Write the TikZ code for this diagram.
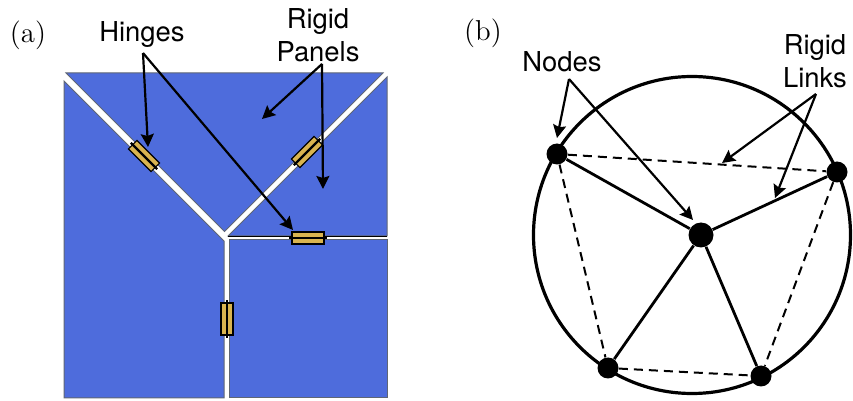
\documentclass[tikz,border=0pt]{standalone}
\usepackage{fontspec}
\newfontfamily\calloutfont{TeX Gyre Heros}
\usetikzlibrary{arrows.meta,positioning}
\definecolor{PanelBlue}{HTML}{4E6CDC}
\definecolor{PanelEdge}{HTML}{5F6675}
\definecolor{HingeGold}{HTML}{D9B450}
\begin{document}
\begin{tikzpicture}[
  x=0.5pt, y=-0.5pt,
  panel/.style={fill=PanelBlue, draw=PanelEdge, line width=0.5pt},
  hingebox/.style={draw=black, fill=HingeGold, line width=0.6pt, minimum width=16pt, minimum height=6pt, inner sep=0pt},
  callout/.style={font=\fontsize{13.7}{15}\selectfont\calloutfont, align=center, inner sep=0pt},
  panellabel/.style={font=\fontsize{14.4}{16}\selectfont, inner sep=0pt},
  joint/.style={circle, fill=black, inner sep=0pt, minimum size=10.5pt},
  hub/.style={joint, minimum size=12.5pt},
  pointer/.style={-{Stealth[length=6.5pt,width=6.5pt,inset=1pt]}, line width=1.1pt},
  solidlink/.style={line width=1.4pt},
  dashedlink/.style={line width=1pt, dash pattern=on 4.5pt off 3pt}
]
\useasboundingbox (0,0) rectangle (853,401);

% (a)
\draw[panel] (66,73) -- (383,73) -- (224.5,231.5) -- cycle;
\draw[panel] (64,81) -- (224,241) -- (224,398) -- (64,398) -- cycle;
\draw[panel] (387,77) -- (228,236) -- (387,236) -- cycle;
\draw[panel] (229,240) -- (387,240) -- (387,398) -- (229,398) -- cycle;
\draw[line width=0.45pt] (228,236) -- (387,236);

\node[hingebox, rotate=-45] (hingeleft) at (144,156) {};
\node[hingebox, rotate=45] (hingeright) at (307,152) {};
\node[hingebox] (hingemid) at (308,238) {};
\node[hingebox, rotate=90] (hingelow) at (227,319) {};
\foreach \h in {hingeleft,hingeright,hingemid,hingelow}
  \draw[line width=1.2pt, shorten <=-1pt, shorten >=-1pt] (\h.west) -- (\h.east);

\node[panellabel] (taga) at (28,35) {(a)};
\node[callout] (hinges) at (142,35) {Hinges};
\node[callout] (panels) at (318,35) {Rigid\\[1.5pt]Panels};

\coordinate (hingesfoot) at (143,53);
\coordinate (panelsfoot) at (322,64);
\coordinate (hingetipa) at (148,147);
\coordinate (hingetipb) at (293,230);
\coordinate (paneltipa) at (262,119);
\coordinate (paneltipb) at (323,189);
\draw[pointer] (hingesfoot) -- (hingetipa);
\draw[pointer] (hingesfoot) -- (hingetipb);
\draw[pointer] (panelsfoot) -- (paneltipa);
\draw[pointer] (panelsfoot) -- (paneltipb);

% (b)
\node[circle, draw=black, line width=1.6pt, minimum size=158.5pt, inner sep=0pt] (rim) at (692,235) {};

\node[joint] (ntl) at (557,154) {};
\node[joint] (ntr) at (837,172) {};
\node[joint] (nbl) at (608,368) {};
\node[joint] (nbr) at (761,376) {};
\node[hub] (nmid) at (701,235) {};

\draw[solidlink] (nmid) -- (ntl);
\draw[solidlink] (nmid) -- (ntr);
\draw[solidlink] (nmid) -- (nbl);
\draw[solidlink] (nmid) -- (nbr);
\draw[dashedlink] (ntl) -- (ntr);
\draw[dashedlink] (ntl) -- (nbl);
\draw[dashedlink] (nbl) -- (nbr);
\draw[dashedlink] (ntr) -- (nbr);

\node[panellabel] (tagb) at (483,33) {(b)};
\node[callout] (nodeslabel) at (562,62) {Nodes};
\node[callout] (linkslabel) at (815,61) {Rigid\\[1.5pt]Links};

\coordinate (nodesfoot) at (569,79);
\coordinate (linksfoot) at (816,94);
\coordinate (nodetipa) at (557,138);
\coordinate (nodetipb) at (693,220);
\coordinate (linktipa) at (722,163);
\coordinate (linktipb) at (775,198);
\draw[pointer] (nodesfoot) -- (nodetipa);
\draw[pointer] (nodesfoot) -- (nodetipb);
\draw[pointer] (linksfoot) -- (linktipa);
\draw[pointer] (linksfoot) -- (linktipb);

\end{tikzpicture}
\end{document}
